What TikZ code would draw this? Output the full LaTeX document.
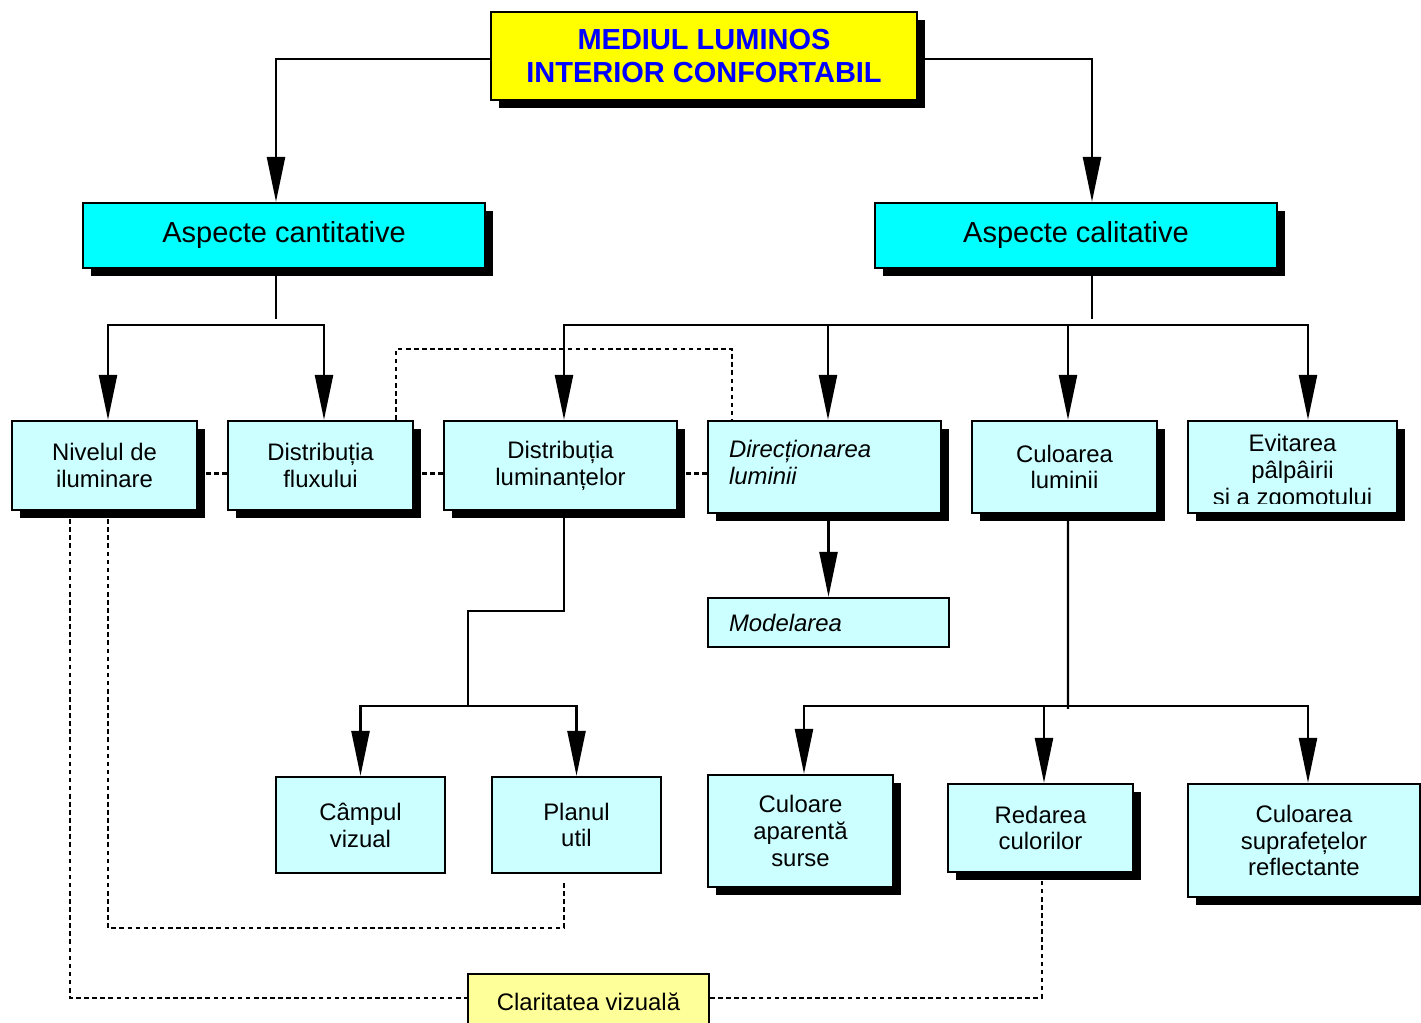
\documentclass[tikz,border=0pt]{standalone}
\usepackage{fontspec}
\setmainfont{Liberation Sans}
\usetikzlibrary{arrows.meta,shadows}

\definecolor{boxfill}{RGB}{204,255,255}
\definecolor{clarfill}{RGB}{255,255,153}
\definecolor{titleblue}{RGB}{0,0,255}
\definecolor{titleyellow}{RGB}{255,255,0}
\definecolor{aspectcyan}{RGB}{0,255,255}

\tikzset{
  box/.style={draw, line width=1.3pt, fill=boxfill, align=center, inner sep=0pt,
    font=\fontsize{13.6}{15.3}\selectfont},
  shadowbox/.style={box, drop shadow={shadow xshift=0.16cm, shadow yshift=-0.16cm, fill=black, opacity=1}},
  bigbox/.style={shadowbox, fill=aspectcyan, font=\fontsize{16.5}{19}\selectfont},
  raised/.style={execute at end node={\\[-9.6pt]\mbox{}}},
  conn/.style={line width=1.4pt},
  arr/.style={conn, -{Triangle[length=0.9cm, width=0.36cm]}},
  dotline/.style={line width=1.5pt, dash pattern=on 2.6pt off 2pt},
}

\begin{document}
\begin{tikzpicture}[x=0.02cm, y=-0.02cm]
\useasboundingbox (0,0) rectangle (1421,1023);

% top
\node[
      shadowbox,
      fill=titleyellow,
      line width=1.6pt,
      minimum width=8.52cm,
      minimum height=1.76cm,
      text=titleblue,
      font=\fontsize{16.5}{18.7}\selectfont\bfseries
] (title) at (704,56) {MEDIUL LUMINOS\\INTERIOR CONFORTABIL};

\node[bigbox, minimum width=8.04cm, minimum height=1.3cm] (cant) at (284,235.5) {Aspecte cantitative};
\node[bigbox, minimum width=8.04cm, minimum height=1.3cm] (cal) at (1076,235.5) {Aspecte calitative};

% second row
\node[shadowbox, raised, minimum width=3.7cm, minimum height=1.78cm] (niv) at (104.5,465.5) {Nivelul de\\iluminare};
\node[shadowbox, raised, minimum width=3.7cm, minimum height=1.78cm] (flux) at (320.5,465.5) {Distribuția\\fluxului};
\node[shadowbox, raised, minimum width=4.66cm, minimum height=1.78cm] (lumt) at (560.5,465.5) {Distribuția\\luminanțelor};
\node[
      shadowbox,
      raised,
      minimum height=1.84cm,
      text width=3.82cm,
      inner xsep=0.42cm,
      align=left,
      font=\fontsize{13.6}{15.3}\selectfont\itshape
] (dir) at (824.5,467) {Direcționarea\\luminii};
\node[shadowbox, raised, minimum width=3.7cm, minimum height=1.84cm] (cul) at (1064.5,467) {Culoarea\\luminii};
\node[shadowbox, minimum width=4.18cm, minimum height=1.84cm] (evit) at (1292.5,467) {};
\begin{scope}
  \clip (evit.north west) rectangle ([yshift=0.22cm]evit.south east); %< -- third line is cut off
  \node[align=center, font=\fontsize{13.6}{15.3}\selectfont] (evittext) at ([yshift=-0.1cm]evit.center)
    {Evitarea\\pâlpâirii\\și a zgomotului};
\end{scope}

\node[
      box,
      minimum height=0.98cm,
      text width=3.98cm,
      inner xsep=0.42cm,
      align=left,
      font=\fontsize{13.6}{15.3}\selectfont\itshape
] (model) at (828.5,622.5) {Modelarea};

% third row
\node[box, raised, minimum width=3.38cm, minimum height=1.92cm] (camp) at (360.5,825) {Câmpul\\vizual};
\node[box, raised, minimum width=3.38cm, minimum height=1.92cm] (plan) at (576.5,825) {Planul\\util};
\node[shadowbox, raised, minimum width=3.7cm, minimum height=2.24cm] (apar) at (800.5,831) {Culoare\\aparentă\\surse};
\node[shadowbox, raised, minimum width=3.7cm, minimum height=1.76cm] (red) at (1040.5,828) {Redarea\\culorilor};
\node[shadowbox, raised, minimum width=4.64cm, minimum height=2.26cm] (supr) at (1304,840.5) {Culoarea\\suprafețelor\\reflectante};

\node[box, fill=clarfill, minimum width=4.82cm, minimum height=1.12cm] (clar) at (588.5,1002) {Claritatea vizuală};

% arrows
\draw[arr] ([yshift=-0.06cm]title.west) -| ([xshift=-0.16cm]cant.north);
\draw[arr] ([yshift=-0.06cm]title.east) -| ([xshift=0.32cm]cal.north);

\draw[conn] ([xshift=-0.16cm]cant.south) -- ++(0,50);
\coordinate (lbus) at (216,325);
\draw[arr] (lbus) -| ([xshift=0.07cm]niv.north);
\draw[arr] (lbus) -| ([xshift=0.07cm]flux.north);

\draw[conn] ([xshift=0.32cm]cal.south) -- ++(0,50);
\coordinate (rbus) at (1092,325);
\draw[arr] (rbus) -| ([xshift=0.07cm]lumt.north);
\draw[arr] (rbus) -| ([xshift=0.07cm]dir.north);
\draw[arr] (rbus) -| ([xshift=0.07cm]cul.north);
\draw[arr] (rbus) -| ([xshift=0.31cm]evit.north);

\draw[arr] (model.north |- dir.south) -- (model.north);

\coordinate (cbus) at (468,706);
\draw[conn] ([xshift=0.07cm]lumt.south) |- (468,611) -- (cbus);
\draw[arr] (cbus) -| (camp.north);
\draw[arr] (cbus) -| (plan.north);

\coordinate (dbus) at (1068,706);
\draw[conn] ([xshift=0.07cm]cul.south) -- ([yshift=-0.06cm]dbus);
\draw[arr] (dbus) -| ([xshift=0.07cm]apar.north);
\draw[arr] (dbus) -| ([xshift=0.07cm]red.north);
\draw[arr] (dbus) -| ([xshift=0.08cm]supr.north);

% dotted links
\draw[dotline] ([yshift=-0.16cm]niv.east) -- ([yshift=-0.16cm]niv.east -| flux.west);
\draw[dotline] ([yshift=-0.16cm]flux.east) -- ([yshift=-0.16cm]flux.east -| lumt.west);
\draw[dotline] ([yshift=-0.16cm]lumt.east) -- ([yshift=-0.16cm]lumt.east -| dir.west);
\coordinate (dtop) at (564,349);
\draw[dotline] ([xshift=1.51cm]flux.north) |- (dtop) -| ([xshift=-1.85cm]dir.north);
\draw[dotline] ([xshift=0.07cm]niv.south) |- (336,928) -| ([xshift=-0.25cm,yshift=-0.14cm]plan.south);
\draw[dotline] ([xshift=-0.69cm]niv.south) |- ([yshift=0.08cm]clar.west);
\draw[dotline] ([yshift=0.08cm]clar.east) -| ([xshift=0.03cm,yshift=-0.16cm]red.south);
\end{tikzpicture}
\end{document}
